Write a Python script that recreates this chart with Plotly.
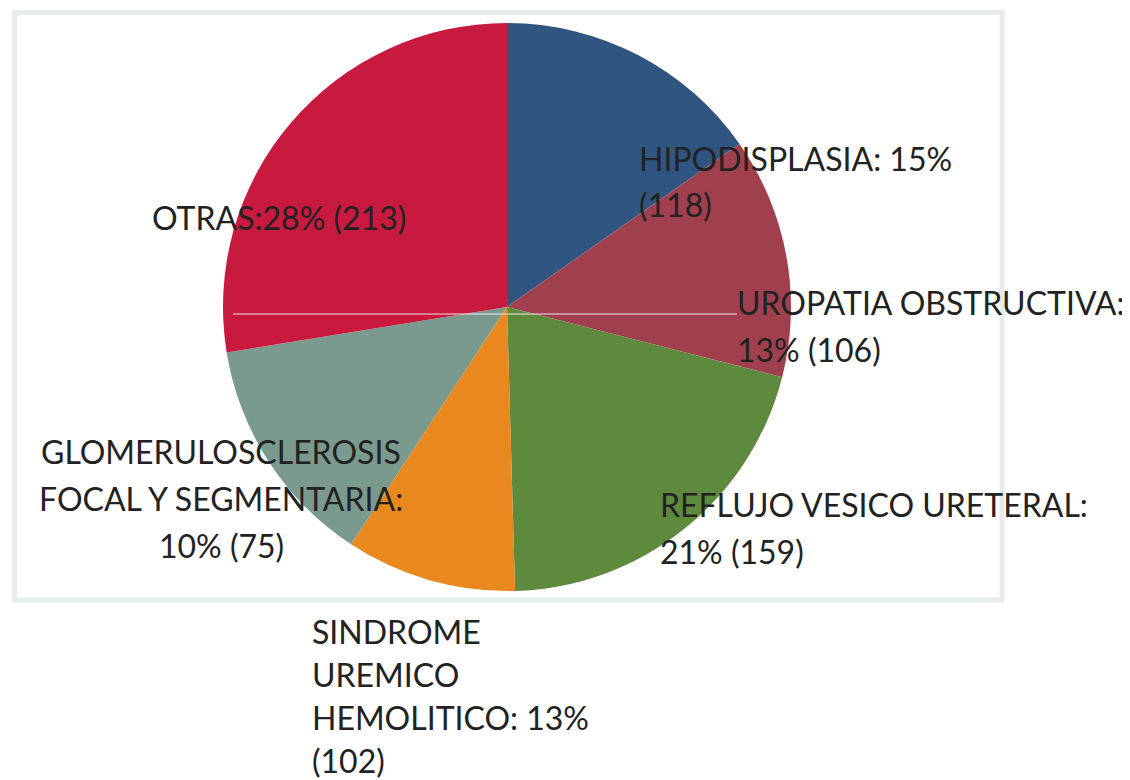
import plotly.graph_objects as go

# Slice data (clockwise from 12 o'clock)
categories = ["HIPODISPLASIA", "UROPATIA OBSTRUCTIVA", "REFLUJO VESICO URETERAL",
              "GLOMERULOSCLEROSIS FOCAL Y SEGMENTARIA", "SINDROME UREMICO HEMOLITICO", "OTRAS"]
values = [118, 106, 159, 75, 102, 213]
colors = ["#2F5580", "#A0404E", "#5E8A3E", "#E8881E", "#7A9A8E", "#C8193F"]

# Label texts (one list of lines per label)
label_lines = [
    ["HIPODISPLASIA: 15%", "(118)"],
    ["UROPATIA OBSTRUCTIVA:", "13% (106)"],
    ["REFLUJO VESICO URETERAL:", "21% (159)"],
    ["GLOMERULOSCLEROSIS", "FOCAL Y SEGMENTARIA:", "10% (75)"],
    ["SINDROME", "UREMICO", "HEMOLITICO: 13%", "(102)"],
    ["OTRAS:28% (213)"],
]

# page body has an 8px margin; work in screen pixels and convert
W, H = 1122, 772
OFF = 8


def px(x):
    return (x - OFF) / W


def py(y):
    return 1 - (y - OFF) / H


fig = go.Figure()

cx, cy, r = 507, 307, 284
fig.add_trace(go.Pie(
    labels=categories, values=values, sort=False, direction="clockwise", rotation=0,
    marker=dict(colors=colors, line=dict(width=0)),
    textinfo="none", hoverinfo="label+value+percent", showlegend=False,
    domain=dict(x=[px(cx - r), px(cx + r)], y=[py(cy + r), py(cy - r)]),
))

# label placement: (anchor x px, first line center y px, line step px, xanchor)
placements = [
    (637, 158, 46, "left"),
    (735, 302, 47, "left"),
    (658, 505, 46, "left"),
    (221, 451, 47, "center"),
    (310, 631, 43, "left"),
    (150, 217, 0, "left"),
]

for lines, (x, y0, step, xa) in zip(label_lines, placements):
    for i, line in enumerate(lines):
        fig.add_annotation(
            x=px(x), y=py(y0 + i * step), xref="paper", yref="paper",
            text=line, showarrow=False, xanchor=xa, yanchor="middle",
            font=dict(family="Lato", size=32, color="#222222"),
        )

shapes = [
    dict(type="rect", xref="paper", yref="paper",
         x0=px(14.5), x1=px(1002), y0=py(600), y1=py(12.5),
         line=dict(color="#E8EBEB", width=5), fillcolor="rgba(0,0,0,0)", layer="below"),
    dict(type="line", xref="paper", yref="paper",
         x0=px(233), x1=px(737), y0=py(314), y1=py(314),
         line=dict(color="#F4E6E8", width=1.2), layer="above"),
]

fig.update_layout(
    width=W, height=H, margin=dict(l=0, r=0, t=0, b=0),
    paper_bgcolor="white", plot_bgcolor="white", shapes=shapes,
)

fig.write_html("out.html")
